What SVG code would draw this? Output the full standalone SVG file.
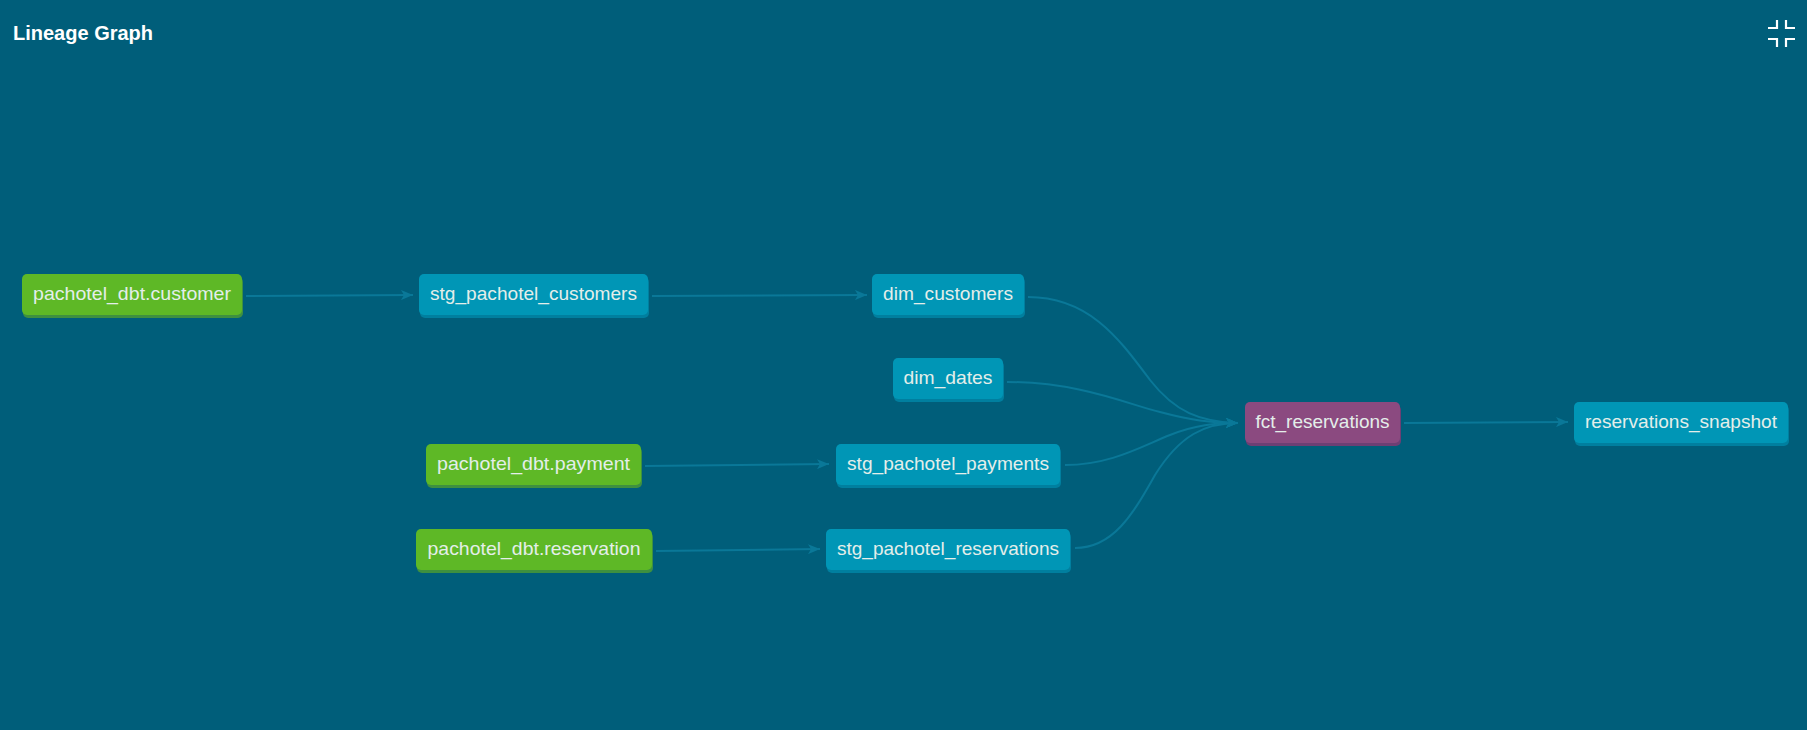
<svg xmlns="http://www.w3.org/2000/svg" width="1807" height="730" viewBox="0 0 1807 730">
<defs>
<style>
.bg{fill:#005e7a}
.title{font-family:"Liberation Sans",Arial,sans-serif;font-weight:bold;font-size:20px;fill:#ffffff}
.lbl{font-family:"Liberation Sans",Arial,sans-serif;font-size:19px;fill:#e4eeea;text-anchor:middle}
.src rect.m{fill:#5eb826}
.src rect.s{fill:#3e9040}
.mdl rect.m{fill:#0096b6}
.mdl rect.s{fill:#007f9f}
.fct rect.m{fill:#8b4a80}
.fct rect.s{fill:#6d3f74}
.edge{fill:none;stroke:#0a7898;stroke-width:2}
.icon{fill:none;stroke:#ffffff;stroke-width:2.2}
</style>
<marker id="arr" viewBox="0 0 12 10" refX="12" refY="5" markerWidth="12" markerHeight="10" markerUnits="userSpaceOnUse" orient="auto">
<path d="M0,0 L12,5 L0,10 L3,5 z" fill="#0a7898"/>
</marker>
</defs>
<rect class="bg" x="0" y="0" width="1807" height="730"/>
<text class="title" x="13" y="40">Lineage Graph</text>
<g id="collapse-icon" class="icon">
<path d="M1768,28 H1777 V20"/>
<path d="M1786,20 V28 H1795"/>
<path d="M1768,39 H1777 V47"/>
<path d="M1786,47 V39 H1795"/>
</g>
<g id="connectors">
<path class="edge" marker-end="url(#arr)" d="M246,296 L413,295"/>
<path class="edge" marker-end="url(#arr)" d="M652,296 L867,295"/>
<path class="edge" marker-end="url(#arr)" d="M645,466 L829,464"/>
<path class="edge" marker-end="url(#arr)" d="M656,551 L820,549"/>
<path class="edge" marker-end="url(#arr)" d="M1028,297 C1090,297 1120,340 1150,380 C1175,412 1200,422 1238,423"/>
<path class="edge" marker-end="url(#arr)" d="M1007,382 C1080,382 1130,405 1160,412 C1190,420 1210,423 1238,423"/>
<path class="edge" marker-end="url(#arr)" d="M1065,465 C1110,465 1140,447 1170,435 C1195,425 1215,423 1238,423"/>
<path class="edge" marker-end="url(#arr)" d="M1075,548 C1115,548 1135,510 1155,475 C1180,435 1205,423 1238,423"/>
<path class="edge" marker-end="url(#arr)" d="M1404,423 L1568,422"/>
</g>
<g id="pachotel_dbt.customer" class="src">
<rect class="s" x="23" y="277" width="220" height="41" rx="5"/>
<rect class="m" x="22" y="274" width="220" height="41" rx="5"/>
<text class="lbl" x="132" y="300" textLength="198" lengthAdjust="spacingAndGlyphs">pachotel_dbt.customer</text>
</g>
<g id="stg_pachotel_customers" class="mdl">
<rect class="s" x="420" y="277" width="229" height="41" rx="5"/>
<rect class="m" x="419" y="274" width="229" height="41" rx="5"/>
<text class="lbl" x="533.5" y="300" textLength="207" lengthAdjust="spacingAndGlyphs">stg_pachotel_customers</text>
</g>
<g id="dim_customers" class="mdl">
<rect class="s" x="873" y="277" width="152" height="41" rx="5"/>
<rect class="m" x="872" y="274" width="152" height="41" rx="5"/>
<text class="lbl" x="948" y="300" textLength="130" lengthAdjust="spacingAndGlyphs">dim_customers</text>
</g>
<g id="dim_dates" class="mdl">
<rect class="s" x="894" y="361" width="110" height="41" rx="5"/>
<rect class="m" x="893" y="358" width="110" height="41" rx="5"/>
<text class="lbl" x="948" y="384" textLength="89" lengthAdjust="spacingAndGlyphs">dim_dates</text>
</g>
<g id="pachotel_dbt.payment" class="src">
<rect class="s" x="427" y="447" width="215" height="41" rx="5"/>
<rect class="m" x="426" y="444" width="215" height="41" rx="5"/>
<text class="lbl" x="533.5" y="470" textLength="193" lengthAdjust="spacingAndGlyphs">pachotel_dbt.payment</text>
</g>
<g id="stg_pachotel_payments" class="mdl">
<rect class="s" x="837" y="447" width="224" height="41" rx="5"/>
<rect class="m" x="836" y="444" width="224" height="41" rx="5"/>
<text class="lbl" x="948" y="470" textLength="202" lengthAdjust="spacingAndGlyphs">stg_pachotel_payments</text>
</g>
<g id="pachotel_dbt.reservation" class="src">
<rect class="s" x="417" y="532" width="236" height="41" rx="5"/>
<rect class="m" x="416" y="529" width="236" height="41" rx="5"/>
<text class="lbl" x="534" y="555" textLength="213" lengthAdjust="spacingAndGlyphs">pachotel_dbt.reservation</text>
</g>
<g id="stg_pachotel_reservations" class="mdl">
<rect class="s" x="827" y="532" width="244" height="41" rx="5"/>
<rect class="m" x="826" y="529" width="244" height="41" rx="5"/>
<text class="lbl" x="948" y="555" textLength="222" lengthAdjust="spacingAndGlyphs">stg_pachotel_reservations</text>
</g>
<g id="fct_reservations" class="fct">
<rect class="s" x="1246" y="405" width="155" height="41" rx="5"/>
<rect class="m" x="1245" y="402" width="155" height="41" rx="5"/>
<text class="lbl" x="1322.5" y="428" textLength="134" lengthAdjust="spacingAndGlyphs">fct_reservations</text>
</g>
<g id="reservations_snapshot" class="mdl">
<rect class="s" x="1575" y="405" width="214" height="41" rx="5"/>
<rect class="m" x="1574" y="402" width="214" height="41" rx="5"/>
<text class="lbl" x="1681" y="428" textLength="192" lengthAdjust="spacingAndGlyphs">reservations_snapshot</text>
</g>
</svg>
